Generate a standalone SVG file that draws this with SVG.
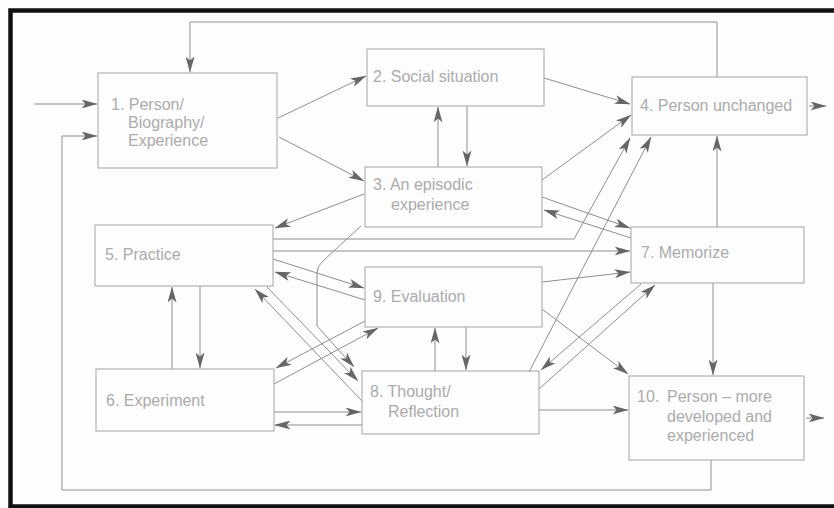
<svg xmlns="http://www.w3.org/2000/svg" width="834" height="508" viewBox="0 0 834 508">
<style>
.box{fill:none;stroke:#ababab;stroke-width:1.1}
.t{font-family:"Liberation Sans",Arial,sans-serif;font-size:16px;fill:#ababab}
.c{fill:none;stroke:#8e8e8e;stroke-width:1}
.a{marker-end:url(#ah)}
</style>
<defs>
<marker id="ah" viewBox="0 0 16 9" refX="15.5" refY="4.5" markerWidth="16" markerHeight="9" markerUnits="userSpaceOnUse" orient="auto">
<path d="M0,0 L16,4.5 L0,9 L4,4.5 z" fill="#666"/>
</marker>
</defs>
<rect x="0" y="0" width="834" height="508" fill="#fdfdfd"/>
<path d="M834,10.5 H10.5 V506.5 H834" fill="none" stroke="#111" stroke-width="4.5"/>

<g id="connectors">
<path class="c a" d="M34,104 H97"/>
<path class="c a" d="M717,77 V22 H190 V72"/>
<path class="c a" d="M711,460 V490 H62 V136 H97"/>
<path class="c a" d="M278,118 L366,76"/>
<path class="c a" d="M279,137 L364,181"/>
<path class="c a" d="M467,106 V166"/>
<path class="c a" d="M438,167 V107"/>
<path class="c a" d="M544,78 L630,104"/>
<path class="c a" d="M542,180 L631,115"/>
<path class="c a" d="M364,194 L275,228"/>
<path class="c a" d="M542,197 L630,228"/>
<path class="c a" d="M631,238 L544,210"/>
<path class="c a" d="M273,239 H574 L630,138"/>
<path class="c a" d="M273,251 H630"/>
<path class="c a" d="M273,259 L364,288"/>
<path class="c a" d="M365,300 L275,272"/>
<path class="c a" d="M200,286 V368"/>
<path class="c a" d="M172,369 V287"/>
<path class="c a" d="M365,321 L276,368"/>
<path class="c a" d="M274,384 L378,328"/>
<path class="c a" d="M267,287 L358,381"/>
<path class="c a" d="M362,401 L255,289"/>
<path class="c a" d="M361,226 L323,261 Q317,266 317,273 V326 L354,367"/>
<path class="c a" d="M274,412 H361"/>
<path class="c a" d="M362,425 H275"/>
<path class="c a" d="M435,371 V328"/>
<path class="c a" d="M466,327 V370"/>
<path class="c a" d="M542,282 L630,272"/>
<path class="c a" d="M542,309 L628,374"/>
<path class="c a" d="M641,284 L541,370"/>
<path class="c a" d="M539,389 L655,285"/>
<path class="c a" d="M529,372 L651,137"/>
<path class="c a" d="M717,227 V136"/>
<path class="c a" d="M713,283 V375"/>
<path class="c a" d="M539,410 H628"/>
<path class="c a" d="M809,106 H826"/>
<path class="c a" d="M806,418 H824"/>
</g>

<g id="n1">
<rect class="box" x="98" y="73" width="179" height="95"/>
<text class="t" x="111" y="110">1. Person/</text>
<text class="t" x="128" y="128">Biography/</text>
<text class="t" x="128" y="146">Experience</text>
</g>
<g id="n2">
<rect class="box" x="367" y="49" width="177" height="57"/>
<text class="t" x="373" y="82">2. Social situation</text>
</g>
<g id="n3">
<rect class="box" x="365" y="167" width="177" height="60"/>
<text class="t" x="373" y="190">3. An episodic</text>
<text class="t" x="391" y="210">experience</text>
</g>
<g id="n4">
<rect class="box" x="632" y="77" width="175" height="58"/>
<text class="t" x="640" y="111">4. Person unchanged</text>
</g>
<g id="n5">
<rect class="box" x="95" y="225" width="178" height="61"/>
<text class="t" x="105" y="260">5. Practice</text>
</g>
<g id="n6">
<rect class="box" x="96" y="369" width="178" height="62"/>
<text class="t" x="106" y="406">6. Experiment</text>
</g>
<g id="n7">
<rect class="box" x="631" y="227" width="173" height="56"/>
<text class="t" x="641" y="258">7. Memorize</text>
</g>
<g id="n8">
<rect class="box" x="362" y="371" width="177" height="63"/>
<text class="t" x="370" y="397">8. Thought/</text>
<text class="t" x="388" y="417">Reflection</text>
</g>
<g id="n9">
<rect class="box" x="365" y="267" width="177" height="60"/>
<text class="t" x="373" y="302">9. Evaluation</text>
</g>
<g id="n10">
<rect class="box" x="629" y="376" width="175" height="84"/>
<text class="t" x="637" y="402">10.</text>
<text class="t" x="667" y="402">Person – more</text>
<text class="t" x="667" y="422">developed and</text>
<text class="t" x="667" y="441">experienced</text>
</g>
</svg>
